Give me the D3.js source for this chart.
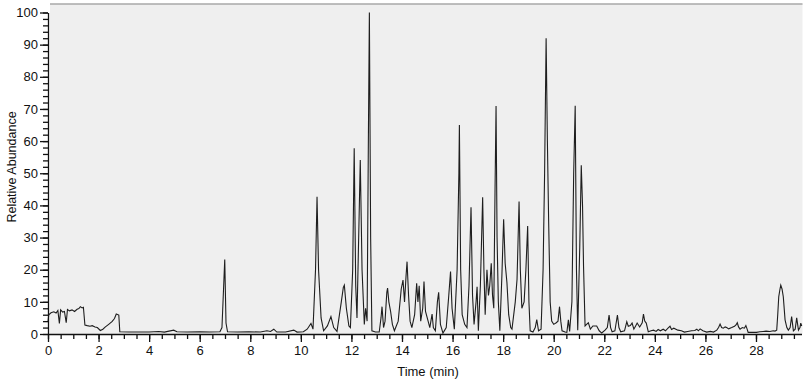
<!DOCTYPE html>
<html>
<head>
<meta charset="utf-8">
<script src="https://cdn.jsdelivr.net/npm/d3@7"></script>
<style>
  body { margin: 0; background: #fff; }
  svg { display: block; font-family: "Liberation Sans", Arial, sans-serif; }
</style>
</head>
<body>
<svg id="chart" width="812" height="385"></svg>
<script>
// chromatogram trace
var times = [
  0.00, 0.03, 0.12, 0.23, 0.32, 0.39, 0.45, 0.50, 0.58, 0.65, 0.72, 0.77, 0.85, 0.95, 1.05, 1.15, 1.22, 1.28, 1.35, 1.40,
  1.46, 1.55, 1.66, 1.75, 1.86, 1.95, 2.07, 2.17, 2.27, 2.40, 2.54, 2.63, 2.70, 2.80, 2.84, 3.20, 3.60, 4.00, 4.38, 4.60,
  4.97, 5.10, 5.50, 6.00, 6.40, 6.80, 6.88, 6.93, 6.99, 7.04, 7.10, 7.50, 7.94, 8.40, 8.66, 8.80, 8.93, 9.05, 9.40, 9.72,
  9.85, 10.10, 10.25, 10.40, 10.48, 10.58, 10.64, 10.70, 10.80, 10.90, 11.05, 11.19, 11.30, 11.43, 11.60, 11.68, 11.72, 11.80, 11.90, 11.96,
  12.05, 12.11, 12.17, 12.22, 12.30, 12.35, 12.42, 12.51, 12.56, 12.62, 12.67, 12.71, 12.76, 12.81, 12.95, 13.10, 13.17, 13.21, 13.27, 13.33,
  13.40, 13.43, 13.48, 13.55, 13.62, 13.70, 13.85, 13.97, 14.04, 14.10, 14.16, 14.20, 14.26, 14.32, 14.39, 14.50, 14.58, 14.63, 14.68, 14.74,
  14.82, 14.87, 14.93, 15.02, 15.10, 15.19, 15.24, 15.32, 15.40, 15.45, 15.52, 15.62, 15.75, 15.85, 15.92, 15.98, 16.07, 16.18, 16.25, 16.27,
  16.32, 16.38, 16.48, 16.57, 16.65, 16.73, 16.79, 16.85, 16.93, 16.97, 17.02, 17.10, 17.19, 17.24, 17.29, 17.36, 17.42, 17.47, 17.53, 17.58,
  17.63, 17.68, 17.72, 17.76, 17.81, 17.87, 17.95, 18.02, 18.08, 18.15, 18.22, 18.30, 18.35, 18.48, 18.55, 18.63, 18.68, 18.74, 18.83, 18.90,
  18.97, 19.02, 19.07, 19.18, 19.27, 19.33, 19.40, 19.50, 19.58, 19.64, 19.70, 19.75, 19.80, 19.86, 19.92, 20.00, 20.10, 20.17, 20.23, 20.28,
  20.33, 20.45, 20.52, 20.58, 20.63, 20.72, 20.79, 20.85, 20.90, 20.95, 21.03, 21.09, 21.14, 21.18, 21.24, 21.30, 21.37, 21.45, 21.55, 21.70,
  21.80, 21.90, 22.03, 22.12, 22.19, 22.25, 22.31, 22.42, 22.52, 22.58, 22.65, 22.80, 22.89, 22.95, 23.03, 23.10, 23.17, 23.24, 23.30, 23.40,
  23.50, 23.55, 23.60, 23.66, 23.74, 23.85, 23.95, 24.05, 24.13, 24.22, 24.33, 24.42, 24.52, 24.60, 24.66, 24.75, 24.91, 25.05, 25.17, 25.30,
  25.45, 25.58, 25.66, 25.72, 25.79, 25.90, 26.05, 26.20, 26.32, 26.45, 26.52, 26.58, 26.64, 26.71, 26.78, 26.84, 26.92, 27.04, 27.15, 27.21,
  27.26, 27.31, 27.37, 27.46, 27.54, 27.60, 27.65, 27.69, 27.85, 28.02, 28.15, 28.28, 28.40, 28.55, 28.68, 28.75, 28.82, 28.86, 28.90, 28.95,
  28.98, 29.03, 29.08, 29.15, 29.22, 29.28, 29.35, 29.41, 29.48, 29.55, 29.61, 29.68, 29.74, 29.77, 29.81
];
var abundance = [
  3.8, 6.0, 6.6, 6.9, 6.5, 7.3, 3.3, 7.5, 6.8, 7.0, 3.5, 7.6, 7.2, 7.5, 7.0, 7.7, 7.9, 8.5, 8.1, 8.3,
  2.8, 2.6, 2.4, 2.6, 2.2, 2.0, 1.1, 1.5, 2.2, 3.0, 3.9, 4.8, 6.2, 5.9, 0.7, 0.6, 0.6, 0.6, 0.8, 0.6,
  1.2, 0.7, 0.6, 0.7, 0.6, 0.7, 2.0, 11.6, 23.2, 3.4, 0.7, 0.6, 0.7, 0.6, 1.0, 0.8, 1.5, 0.6, 0.6, 1.2,
  0.6, 0.7, 1.5, 3.3, 1.5, 20, 42.7, 20, 5, 1.0, 2.5, 5.4, 2.0, 0.8, 10, 14.5, 15.2, 8, 2.5, 2.0,
  20, 57.8, 15, 5, 35, 54.1, 20, 3, 8, 4, 60, 100, 30, 1, 0.6, 0.6, 5, 8.5, 2, 4,
  13, 14.3, 10, 7, 3, 1, 4, 14, 16.8, 10, 18, 22.5, 12, 4, 2, 6, 15.8, 10, 15, 4,
  8, 16.3, 7, 4.4, 2, 6.2, 2, 1, 10, 13, 3, 0.3, 2, 12, 19.4, 8, 1.5, 20, 50, 65,
  20, 6, 3, 2, 15, 39.4, 12, 3, 10, 14.7, 1, 15, 42.5, 20, 6, 20, 12, 15, 22, 12,
  8, 45, 70.9, 30, 10, 1, 18, 35.7, 22, 16, 6, 2, 1.5, 10, 17, 41.2, 20, 8, 10, 20,
  33.6, 10, 1, 0.6, 2, 4.5, 1, 1.5, 20, 50, 92, 60, 35, 10, 4, 3, 3.5, 4, 8.5, 4,
  1, 0.6, 0.5, 4.4, 0.8, 10, 50, 71, 20, 1.2, 27, 52.5, 40, 21, 2.5, 3, 3.5, 1.5, 2.5, 2.5,
  1, 0.3, 1.2, 2, 5.9, 2, 0.7, 1, 5.9, 2, 0.7, 1, 3.8, 2.4, 2.6, 3.4, 1.5, 2.5, 3.4, 2.2,
  3.5, 6.2, 4, 3.4, 0.7, 1, 1.2, 0.8, 1.4, 1, 1.5, 1, 1.8, 2.4, 1.4, 1.8, 1.2, 1, 0.6, 0.8,
  1, 1.1, 1.5, 1, 1.6, 1, 0.6, 0.8, 0.6, 1.2, 2, 3.1, 2, 1.8, 2.2, 2, 1.6, 2, 2.4, 2.8,
  3.5, 2.2, 1.5, 2, 1.8, 2.6, 1.5, 0.5, 0.5, 0.5, 0.7, 0.8, 0.9, 0.8, 1, 0.9, 1.2, 6, 11.6, 14,
  15.2, 14, 11.6, 4.4, 2, 1.2, 2, 5.4, 1, 1.5, 5, 1.2, 2, 3.4, 2.5
];
var xTicks = [0, 2, 4, 6, 8, 10, 12, 14, 16, 18, 20, 22, 24, 26, 28];
var yTicks = [0, 10, 20, 30, 40, 50, 60, 70, 80, 90, 100];

var svg = d3.select('#chart');
var plotLeft = 48, plotRight = 801.5, plotTop = 12.5, plotBottom = 334;

var x = d3.scaleLinear().domain([0, 29.8]).range([plotLeft, plotRight]);
var y = d3.scaleLinear().domain([0, 100]).range([plotBottom, plotTop]);

// plot background
svg.append('rect')
    .attr('x', plotLeft + 2).attr('y', 4)
    .attr('width', plotRight - plotLeft - 1).attr('height', plotBottom - 4)
    .attr('fill', '#efefef');
svg.append('line')
    .attr('x1', plotLeft + 2).attr('x2', plotRight + 1)
    .attr('y1', 4).attr('y2', 4)
    .attr('stroke', '#a8a8a8').attr('stroke-width', 1.5);

var data = times.map(function(t, i) { return [t, abundance[i]]; });

var line = d3.line()
    .x(function(d) { return x(d[0]); })
    .y(function(d) { return y(d[1]); });

svg.append('path')
    .datum(data)
    .attr('d', line)
    .attr('fill', 'none')
    .attr('stroke', '#1e1e1e')
    .attr('stroke-width', 1.1)
    .attr('stroke-linejoin', 'miter');

// minor ticks
var xMinor = d3.range(0, 30, 0.5);
var yMinor = d3.range(0, 101, 2);

svg.append('g')
    .attr('transform', 'translate(0,' + plotBottom + ')')
    .call(d3.axisBottom(x).tickValues(xMinor).tickSize(5).tickFormat(''))
    .call(function(g) { g.select('.domain').remove(); });

svg.append('g')
    .attr('transform', 'translate(' + plotLeft + ',0)')
    .call(d3.axisLeft(y).tickValues(yMinor).tickSize(5).tickFormat(''))
    .call(function(g) { g.select('.domain').remove(); });

// major ticks with labels
svg.append('g')
    .attr('transform', 'translate(0,' + plotBottom + ')')
    .call(d3.axisBottom(x).tickValues(xTicks).tickSize(8).tickPadding(4).tickSizeOuter(0));

svg.append('g')
    .attr('transform', 'translate(' + plotLeft + ',0)')
    .call(d3.axisLeft(y).tickValues(yTicks).tickSize(8).tickPadding(2).tickSizeOuter(0));

svg.selectAll('.tick line, .domain').attr('stroke', '#111').attr('stroke-width', 1.3);
svg.selectAll('.tick text')
    .attr('fill', '#111')
    .style('font-size', '13px')
    .style('font-family', '"Liberation Sans", Arial, sans-serif');

// axis titles
svg.append('text')
    .attr('x', 428).attr('y', 375.5)
    .attr('text-anchor', 'middle')
    .attr('fill', '#111')
    .style('font-size', '13px')
    .text('Time (min)');

svg.append('text')
    .attr('transform', 'translate(15.5,167) rotate(-90)')
    .attr('text-anchor', 'middle')
    .attr('fill', '#111')
    .style('font-size', '12.5px')
    .text('Relative Abundance');
</script>
</body>
</html>
